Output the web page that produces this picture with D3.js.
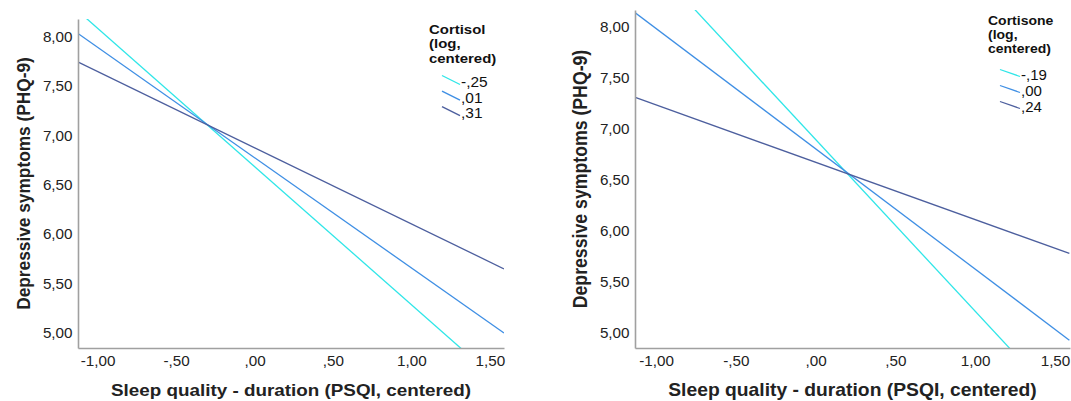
<!DOCTYPE html>
<html>
<head>
<meta charset="utf-8">
<script src="https://cdn.jsdelivr.net/npm/d3@7/dist/d3.min.js"></script>
<style>
  body { margin: 0; background: #fff; }
  svg { display: block; font-family: "Liberation Sans", Arial, sans-serif; }
</style>
</head>
<body>
<svg id="chart" width="1071" height="401"></svg>
<script>
//---------------- data ----------------//
var xEnds = [-1.13, 1.59];              // x where each simple-slope line is evaluated
var xTicks = [-1, -0.5, 0, 0.5, 1, 1.5];
var yTicks = [5, 5.5, 6, 6.5, 7, 7.5, 8];

var cortisolLevels = ['-,25', ',01', ',31'];
var cortisolY = [[8.27, 4.46], [8.04, 5.00], [7.75, 5.65]];

var cortisoneLevels = ['-,19', ',00', ',24'];
var cortisoneY = [[8.80, 4.22], [8.14, 4.93], [7.31, 5.78]];

var lineColors = ['#2fe6e8', '#3f8fe4', '#4d5f9e'];
//--------------------------------------//

var svg = d3.select('#chart');
var SX = 1.09;   // the source picture is a little wider than tall, text too

// SPSS style labels: comma decimal, no leading zero
function spss(v) {
  var s = d3.format('.2f')(Math.abs(v)).replace('.', ',');
  if (s.charAt(0) === '0') s = s.slice(1);
  return (v < 0 ? '-' : '') + s;
}

var panels = [
  { id: 'p1', left: 78, right: 504, top: 19, bottom: 348,
    xDom: [-1.125, 1.59], yDom: [4.848, 8.182],
    levels: cortisolLevels, ys: cortisolY, axisTitle: 17.3,
    ytitleX: 23, legX: 429, legY: 33.5, legGap: 14.5, titleSize: 13, titleSX: 1.15,
    itemY: 82, itemGap: 15.6, itemSize: 14.2, iconX: 442, iconW: 18, iconH: 9,
    legTitle: ['Cortisol', '(log,', 'centered)'] },
  { id: 'p2', left: 635, right: 1070, top: 10, bottom: 348,
    xDom: [-1.1316, 1.594], yDom: [4.853, 8.167],
    levels: cortisoneLevels, ys: cortisoneY, axisTitle: 17.7,
    ytitleX: 580, legX: 988, legY: 25, legGap: 14, titleSize: 12.5, titleSX: 1.12,
    itemY: 75, itemGap: 16, itemSize: 13.8, iconX: 1000, iconW: 20, iconH: 7,
    legTitle: ['Cortisone', '(log,', 'centered)'] }
];

panels.forEach(function(p) {
  var x = d3.scaleLinear().domain(p.xDom).range([p.left, p.right]);
  var y = d3.scaleLinear().domain(p.yDom).range([p.bottom, p.top]);
  var g = svg.append('g').attr('class', p.id);

  g.append('clipPath').attr('id', 'clip-' + p.id)
    .append('rect')
    .attr('x', p.left).attr('y', p.top)
    .attr('width', p.right - p.left).attr('height', p.bottom - p.top);

  // lines
  var line = d3.line().x(function(d) { return x(d[0]); }).y(function(d) { return y(d[1]); });
  g.append('g').attr('clip-path', 'url(#clip-' + p.id + ')')
    .selectAll('path').data(p.ys).enter().append('path')
    .attr('d', function(d) { return line(xEnds.map(function(xv, i) { return [xv, d[i]]; })); })
    .attr('fill', 'none')
    .attr('stroke', function(d, i) { return lineColors[i]; })
    .attr('stroke-width', 1.3);

  // axes
  var xa = g.append('g').attr('transform', 'translate(0,' + p.bottom + ')')
    .call(d3.axisBottom(x).tickValues(xTicks).tickFormat(spss).tickSize(0).tickSizeOuter(0).tickPadding(8));
  var ya = g.append('g').attr('transform', 'translate(' + p.left + ',0)')
    .call(d3.axisLeft(y).tickValues(yTicks).tickFormat(spss).tickSize(0).tickSizeOuter(0).tickPadding(5));
  [xa, ya].forEach(function(a) {
    a.select('.domain').attr('stroke', '#a0a0a0').attr('stroke-width', 1.6);
    a.selectAll('text').attr('fill', '#222').style('font-size', '14px')
      .style('font-family', '"Liberation Sans", Arial, sans-serif')
      .attr('transform', 'scale(' + SX + ',1)');
  });

  // titles
  g.append('text')
    .attr('transform', 'translate(' + (p.left + p.right) / 2 + ',396) scale(' + SX + ',1)')
    .attr('text-anchor', 'middle')
    .style('font-size', p.axisTitle + 'px').style('font-weight', 'bold').attr('fill', '#222')
    .text('Sleep quality - duration (PSQI, centered)');
  g.append('text')
    .attr('transform', 'translate(' + p.ytitleX + ',' + (p.top + p.bottom) / 2 + ') scale(' + SX + ',1) rotate(-90)')
    .attr('text-anchor', 'middle').attr('dy', '0.35em')
    .style('font-size', p.axisTitle + 'px').style('font-weight', 'bold').attr('fill', '#222')
    .text('Depressive symptoms (PHQ-9)');

  // legend
  g.selectAll('.lt').data(p.legTitle).enter().append('text')
    .attr('transform', function(d, i) {
      return 'translate(' + p.legX + ',' + (p.legY + i * p.legGap) + ') scale(' + p.titleSX + ',1)';
    })
    .style('font-size', p.titleSize + 'px').style('font-weight', 'bold').attr('fill', '#111')
    .text(function(d) { return d; });
  var items = g.selectAll('.li').data(p.levels).enter().append('g')
    .attr('transform', function(d, i) { return 'translate(0,' + (p.itemY + i * p.itemGap) + ')'; });
  items.append('line')
    .attr('x1', p.iconX).attr('y1', -p.iconH / 2 - 2)
    .attr('x2', p.iconX + p.iconW).attr('y2', p.iconH / 2 - 2)
    .attr('stroke', function(d, i) { return lineColors[i]; }).attr('stroke-width', 1.3);
  items.append('text')
    .attr('transform', 'translate(' + (p.iconX + p.iconW + 1) + ',0) scale(' + SX + ',1)')
    .attr('dy', '0.35em')
    .style('font-size', p.itemSize + 'px').attr('fill', '#111')
    .text(function(d) { return d; });
});
</script>
</body>
</html>
